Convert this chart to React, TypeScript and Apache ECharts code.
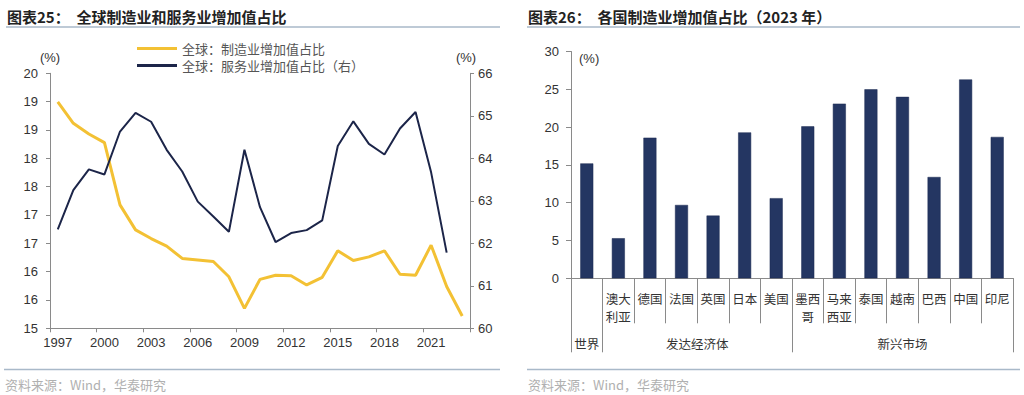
import React, { useEffect, useRef } from "react";
import * as echarts from "echarts";

const years = [
  "1997", "1998", "1999", "2000", "2001", "2002", "2003", "2004", "2005",
  "2006", "2007", "2008", "2009", "2010", "2011", "2012", "2013", "2014",
  "2015", "2016", "2017", "2018", "2019", "2020", "2021", "2022", "2023",
];
const mfgShare = [
  19.44, 19.02, 18.81, 18.64, 17.42, 16.93, 16.76, 16.61, 16.37,
  16.34, 16.31, 16.01, 15.39, 15.96, 16.04, 16.03, 15.85, 16.0,
  16.52, 16.33, 16.4, 16.52, 16.06, 16.04, 16.63, 15.82, 15.24,
];
const svcShare = [
  62.33, 63.25, 63.74, 63.62, 64.63, 65.07, 64.86, 64.2, 63.69,
  62.98, 62.63, 62.27, 64.2, 62.85, 62.03, 62.24, 62.31, 62.54,
  64.29, 64.87, 64.34, 64.09, 64.7, 65.09, 63.67, 61.78, null,
];
const mfgName = "全球：制造业增加值占比";
const svcName = "全球：服务业增加值占比（右）";

const countries = [
  "世界", "澳大利亚", "德国", "法国", "英国", "日本", "美国",
  "墨西哥", "马来西亚", "泰国", "越南", "巴西", "中国", "印尼",
];
const countryShare = [15.2, 5.3, 18.6, 9.7, 8.3, 19.3, 10.6, 20.1, 23.1, 25.0, 24.0, 13.4, 26.3, 18.7];
const groupNames = ["世界", "发达经济体", "新兴市场"];
const groupStarts = [0, 1, 7];
const groupEnds = [1, 7, 14];

const leftTitle = "图表25：  全球制造业和服务业增加值占比";
const rightTitle = "图表26：  各国制造业增加值占比（2023 年）";
const sourceText = "资料来源：Wind，华泰研究";

const NUM_FONT = "'Liberation Sans', Arial, sans-serif";
const CJK_FONT = "'Noto Sans CJK SC', sans-serif";
const AXIS_COLOR = "#8a8a8a";
const LABEL_COLOR = "#333";

export default function App() {
  const ref = useRef<HTMLDivElement>(null);
  useEffect(() => {
    const chart = echarts.init(ref.current!, null, { renderer: "svg" });

    const staticGraphics: any[] = [
      { type: "text", x: 7, y: 16, style: { text: leftTitle, font: `bold 15px ${CJK_FONT}`, fill: "#222", textVerticalAlign: "middle" } },
      { type: "text", x: 528, y: 16, style: { text: rightTitle, font: `bold 15px ${CJK_FONT}`, fill: "#222", textVerticalAlign: "middle" } },
      { type: "line", shape: { x1: 6, y1: 27, x2: 500, y2: 27 }, style: { stroke: "#a9b9c9", lineWidth: 1.5 } },
      { type: "line", shape: { x1: 527, y1: 27, x2: 1020, y2: 27 }, style: { stroke: "#a9b9c9", lineWidth: 1.5 } },
      { type: "line", shape: { x1: 4, y1: 369.5, x2: 500, y2: 369.5 }, style: { stroke: "#a9b9c9", lineWidth: 1.5 } },
      { type: "line", shape: { x1: 527, y1: 369.5, x2: 1020, y2: 369.5 }, style: { stroke: "#a9b9c9", lineWidth: 1.5 } },
      { type: "text", x: 5, y: 384, style: { text: sourceText, font: `13px ${CJK_FONT}`, fill: "#b0b0b0", textVerticalAlign: "middle" } },
      { type: "text", x: 528, y: 384, style: { text: sourceText, font: `13px ${CJK_FONT}`, fill: "#b0b0b0", textVerticalAlign: "middle" } },
      { type: "text", x: 50, y: 57, style: { text: "(%)", font: `13px ${NUM_FONT}`, fill: LABEL_COLOR, textAlign: "center", textVerticalAlign: "middle" } },
      { type: "text", x: 466, y: 57, style: { text: "(%)", font: `13px ${NUM_FONT}`, fill: LABEL_COLOR, textAlign: "center", textVerticalAlign: "middle" } },
      { type: "text", x: 579, y: 58, style: { text: "(%)", font: `13px ${NUM_FONT}`, fill: LABEL_COLOR, textVerticalAlign: "middle" } },
    ];

    const option: any = {
      animation: false,
      backgroundColor: "#fff",
      grid: [
        { left: 50, right: 554, top: 73.3, bottom: 66.7 },
        { left: 571, right: 11, top: 51.5, bottom: 116.7 },
      ],
      legend: {
        left: 137,
        top: 41,
        padding: 0,
        orient: "vertical",
        itemWidth: 40,
        itemHeight: 3,
        itemGap: 2,
        icon: "rect",
        selectedMode: false,
        textStyle: { fontFamily: CJK_FONT, fontSize: 13, color: "#555", lineHeight: 15 },
        data: [mfgName, svcName],
      },
      xAxis: [
        {
          type: "category",
          gridIndex: 0,
          data: years,
          boundaryGap: true,
          position: "bottom",
          axisLine: { show: true, lineStyle: { color: AXIS_COLOR, width: 1 } },
          axisTick: { show: true, interval: 2, length: 4, lineStyle: { color: AXIS_COLOR } },
          axisLabel: { interval: 2, fontFamily: NUM_FONT, fontSize: 13, color: LABEL_COLOR, margin: 8 },
        },
        {
          type: "category",
          gridIndex: 1,
          data: countries,
          boundaryGap: true,
          position: "bottom",
          axisLine: { show: true, lineStyle: { color: AXIS_COLOR, width: 1 } },
          axisTick: { show: true, interval: 0, length: 45, lineStyle: { color: AXIS_COLOR } },
          axisLabel: {
            interval: 0,
            fontFamily: CJK_FONT,
            fontSize: 12.5,
            color: LABEL_COLOR,
            margin: 11,
            lineHeight: 18,
            verticalAlign: "top",
            formatter: (v: string, i: number) => {
              const gi = groupStarts.findIndex((s, k) => i >= s && i < groupEnds[k]);
              if (gi >= 0 && groupEnds[gi] - groupStarts[gi] === 1) return "";
              return v.length > 2 ? v.slice(0, 2) + "\n" + v.slice(2) : v;
            },
          },
        },
        {
          type: "category",
          gridIndex: 1,
          data: countries,
          boundaryGap: true,
          position: "bottom",
          axisLine: { show: false },
          axisTick: {
            show: true,
            interval: (i: number) => groupStarts.indexOf(i) >= 0,
            length: 74,
            lineStyle: { color: AXIS_COLOR },
          },
          axisLabel: { show: false },
        },
      ],
      yAxis: [
        {
          type: "value",
          gridIndex: 0,
          position: "left",
          min: 15,
          max: 20,
          interval: 5 / 9,
          splitLine: { show: false },
          axisLine: { show: true, lineStyle: { color: AXIS_COLOR } },
          axisTick: { show: true, length: 4, lineStyle: { color: AXIS_COLOR } },
          axisLabel: {
            fontFamily: NUM_FONT,
            fontSize: 13,
            color: LABEL_COLOR,
            margin: 12,
            formatter: (v: number) => String(Math.round(v)),
          },
        },
        {
          type: "value",
          gridIndex: 0,
          position: "right",
          min: 60,
          max: 66,
          interval: 1,
          splitLine: { show: false },
          axisLine: { show: true, lineStyle: { color: AXIS_COLOR } },
          axisTick: { show: true, length: 4, lineStyle: { color: AXIS_COLOR } },
          axisLabel: { fontFamily: NUM_FONT, fontSize: 13, color: LABEL_COLOR, margin: 8 },
        },
        {
          type: "value",
          gridIndex: 1,
          position: "left",
          min: 0,
          max: 30,
          interval: 5,
          splitLine: { show: false },
          axisLine: { show: true, lineStyle: { color: AXIS_COLOR } },
          axisTick: { show: true, length: 5, lineStyle: { color: AXIS_COLOR } },
          axisLabel: { fontFamily: NUM_FONT, fontSize: 13, color: LABEL_COLOR, margin: 12 },
        },
      ],
      series: [
        {
          name: mfgName,
          type: "line",
          xAxisIndex: 0,
          yAxisIndex: 0,
          data: mfgShare,
          symbol: "none",
          color: "#F3C134",
          lineStyle: { width: 3, color: "#F3C134" },
        },
        {
          name: svcName,
          type: "line",
          xAxisIndex: 0,
          yAxisIndex: 1,
          data: svcShare,
          symbol: "none",
          color: "#1C2549",
          lineStyle: { width: 2, color: "#1C2549" },
        },
        {
          name: "各国制造业增加值占比",
          type: "bar",
          xAxisIndex: 1,
          yAxisIndex: 2,
          data: countryShare,
          barWidth: 13,
          itemStyle: { color: "#243662", borderColor: "#1c2b52", borderWidth: 0.5 },
        },
      ],
      graphic: staticGraphics,
    };
    chart.setOption(option);

    const groupLabels = groupNames.map((name, k) => {
      const x0 = chart.convertToPixel({ xAxisIndex: 1 }, countries[groupStarts[k]]) as number;
      const x1 = chart.convertToPixel({ xAxisIndex: 1 }, countries[groupEnds[k] - 1]) as number;
      return {
        type: "text",
        x: (x0 + x1) / 2,
        y: 343,
        style: {
          text: name,
          font: `12.5px ${CJK_FONT}`,
          fill: LABEL_COLOR,
          textAlign: "center",
          textVerticalAlign: "middle",
        },
      };
    });
    chart.setOption({ graphic: [...staticGraphics, ...groupLabels] });

    return () => chart.dispose();
  }, []);

  return (
    <div
      ref={ref}
      style={{ position: "fixed", left: 0, top: 0, width: 1024, height: 395, background: "#fff" }}
    />
  );
}
